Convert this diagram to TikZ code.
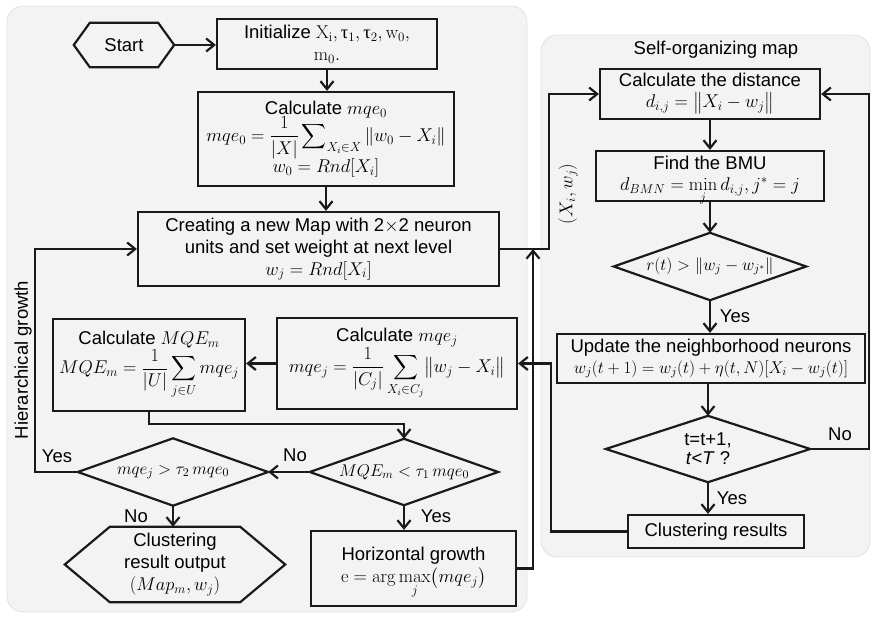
\RequirePackage{fix-cm}
\documentclass[tikz,border=0pt]{standalone}
\usepackage{amsmath}
\usepackage[no-math]{fontspec}
\setmainfont{Liberation Sans}
\newfontfamily\serifup{Liberation Serif}
\usetikzlibrary{arrows.meta}

\definecolor{panelfill}{HTML}{F3F3F3}
\definecolor{paneledge}{HTML}{E2E2E2}
\definecolor{ink}{HTML}{1A1A1A}

\newcommand\mainsize{\fontsize{18.5}{22}\selectfont}
\newcommand\condsize{\fontsize{17}{20}\selectfont}
\newcommand\upgtau{\mbox{\serifup τ}}
% outline of a decision diamond through the four side anchors of a node
\newcommand\diamondoutline[1]{\draw[outline] (#1.west) -- (#1.north) -- (#1.east) -- (#1.south) -- cycle;}

\tikzset{
  panel/.style={fill=panelfill, draw=paneledge, line width=0.8pt, rounded corners=16pt},
  box/.style={draw=ink, line width=2.2pt, fill=panelfill, rectangle, inner sep=0pt,
              align=center, font=\mainsize},
  decision/.style={rectangle, inner sep=0pt, align=center, font=\condsize},
  terminal/.style={rectangle, inner sep=0pt, align=center, font=\mainsize},
  outline/.style={draw=ink, line width=2.2pt, line join=miter},
  link/.style={draw=ink, line width=2.2pt, -{Straight Barb[length=8pt,width=13pt]}},
  lbl/.style={font=\mainsize, inner sep=0pt},
}

\begin{document}
\begin{tikzpicture}[x=1pt,y=-1pt]
\useasboundingbox (0,0) rectangle (871,617);

% the two grouping panels
\path[panel] (7,6) rectangle (527,612);
\path[panel] (541,35) rectangle (870,557);
\node[lbl] (somtitle) at (716,50) {Self-organizing map};
\node[lbl, rotate=90] (hiertitle) at (23,360) {Hierarchical growth};

% ---------- growing hierarchical part ----------
\node[terminal, minimum width=100pt, minimum height=44pt] (start) at (124,45) {Start};
\draw[outline] (start.west) -- ([xshift=16pt]start.north west) -- ([xshift=-16pt]start.north east)
  -- (start.east) -- ([xshift=-16pt]start.south east) -- ([xshift=16pt]start.south west) -- cycle;

\node[box, minimum width=220pt, minimum height=50pt] (init) at (327,44)
  {Initialize $\mathrm{X_i},\upgtau_1,\upgtau_2,\mathrm{w_0},$\\$\mathrm{m_0}.$};

\node[box, minimum width=256pt, minimum height=94pt] (mqe0) at (326,139)
  {Calculate $mqe_0$\\[-2pt]
   $mqe_0=\dfrac{1}{|X|}\displaystyle\sum\nolimits_{X_i\in X}\|w_0-X_i\|$\\[-1pt]
   $w_0=Rnd[X_i]$};

\node[box, minimum width=361pt, minimum height=74pt] (create) at (318.5,249)
  {Creating a new Map with 2$\times$2 neuron\\units and set weight at next level\\$w_j=Rnd[X_i]$};

\node[box, minimum width=192pt, minimum height=92pt] (mqem) at (149,365)
  {Calculate $MQE_m$\\
   $MQE_m=\dfrac{1}{|U|}\displaystyle\sum_{j\in U}mqe_j$};

\node[box, minimum width=240pt, minimum height=91pt] (mqej) at (397,363.5)
  {Calculate $mqe_j$\\
   $mqe_j=\dfrac{1}{|C_j|}\displaystyle\sum_{X_i\in C_j}\bigl\|w_j-X_i\bigr\|$};

\node[decision, minimum width=190pt, minimum height=67pt] (dmj) at (173,472)
  {$mqe_j>\tau_2\,mqe_0$};
\diamondoutline{dmj}
\node[decision, minimum width=188pt, minimum height=66pt] (dmqe) at (404,472)
  {$MQE_m<\tau_1\,mqe_0$};
\diamondoutline{dmqe}

\node[terminal, minimum width=220pt, minimum height=75pt] (outp) at (175,564.5)
  {Clustering\\result output\\$(Map_m,w_j)$};
\draw[outline] (outp.west) -- ([xshift=45pt]outp.north west) -- ([xshift=-45pt]outp.north east)
  -- (outp.east) -- ([xshift=-45pt]outp.south east) -- ([xshift=45pt]outp.south west) -- cycle;

\node[box, minimum width=205pt, minimum height=75pt] (hgrow) at (413.5,568.5)
  {Horizontal growth\\$\mathrm{e}=\smash[b]{\arg\max\limits_j}\bigl(mqe_j\bigr)$};

% ---------- self-organizing map ----------
\node[box, minimum width=220pt, minimum height=50pt] (dist) at (710,94)
  {Calculate the distance\\[-1pt]$d_{i,j}=\bigl\|X_i-w_j\bigr\|$};
\node[box, minimum width=228pt, minimum height=50pt] (bmu) at (710,176)
  {Find the BMU\\[-1pt]$d_{BMN}=\smash[b]{\min\limits_j}\, d_{i,j},j^*=j$};
\node[decision, minimum width=192pt, minimum height=67pt] (drt) at (710,266.5)
  {$r(t)>\|w_j-w_{j^*}\|$};
\diamondoutline{drt}
\node[box, minimum width=308pt, minimum height=49pt] (upd) at (711,358.5)
  {Update the neighborhood neurons\\[-1pt]
   {\condsize $w_j(t+1)=w_j(t)+\eta(t,N)[X_i-w_j(t)]$}};
\node[decision, minimum width=204pt, minimum height=66pt, font=\mainsize] (dt) at (708,449)
  {t=t+1,\\[-3pt]\textit{t}<\textit{T} ?};
\diamondoutline{dt}
\node[box, minimum width=176pt, minimum height=33pt] (clres) at (716,531.5) {Clustering results};

% bend points of the connectors
\coordinate (split) at (549,249);
\coordinate (merge) at (533,249);
\coordinate (ret) at (551,531.5);
\coordinate (hier) at (35,249);
\coordinate (drop) at (404,424);
\coordinate (loop) at (869,94);

% ---------- connectors ----------
\draw[link] (start.east) -- (start.east -| init.west);
\draw[link] (init.south) -- (init.south |- mqe0.north);
\draw[link] (mqe0.south) -- (mqe0.south |- create.north);
\draw[link] (create.east) -- (split) |- (dist.west);
\draw[link] (hgrow.east) -| (merge);
\draw[link] (clres.west) -- (ret) |- (mqej.east);
\draw[link] (mqej.west) -- (mqej.west -| mqem.east);
\draw[link] (mqem.south) |- (drop) -- (dmqe.north);
\draw[link] (dmqe.west) -- (dmj.east);
\draw[link] (dmqe.south) -- (dmqe.south |- hgrow.north);
\draw[link] (dmj.west) -| (hier) -- (create.west);
\draw[link] (dmj.south) -- (dmj.south |- outp.north);

\draw[link] (dist.south) -- (bmu.north);
\draw[link] (bmu.south) -- (drt.north);
\draw[link] (drt.south) -- (drt.south |- upd.north);
\draw[link] (upd.south -| dt.north) -- (dt.north);
\draw[link] (dt.south) -- (dt.south |- clres.north);
\draw[link] (dt.east) -| (loop) -- (dist.east);

% ---------- connector labels ----------
\node[lbl, rotate=90] (pairlbl) at (568,194) {$(X_i,w_j)$};
\node[lbl] (nomid) at (295,455) {No};
\node[lbl] (yeshor) at (436,516) {Yes};
\node[lbl] (yeshier) at (57,456) {Yes};
\node[lbl] (noout) at (136,516) {No};
\node[lbl] (yesupd) at (735,316) {Yes};
\node[lbl] (noloop) at (840,434) {No};
\node[lbl] (yesend) at (732,498) {Yes};
\end{tikzpicture}
\end{document}
